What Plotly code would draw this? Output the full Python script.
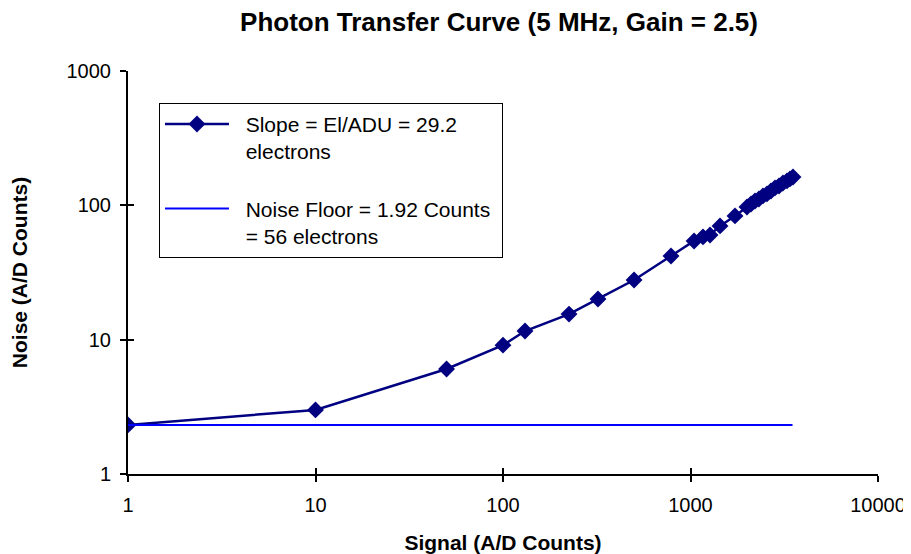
import plotly.graph_objects as go

# Data
signal = [1, 10, 50, 100, 131, 225, 321, 500, 787, 1045, 1166, 1271, 1437, 1727,
          2001, 2103, 2208, 2318, 2436, 2558, 2686, 2823, 2965, 3113, 3271, 3395, 3521]
noise = [2.32, 3.0, 6.05, 9.1, 11.6, 15.5, 20.1, 27.8, 42.0, 54.3, 58.2, 60.2, 70.3, 83.4,
         97.3, 102.4, 107.8, 111.6, 117.5, 121.6, 128.0, 134.8, 139.4, 146.8, 152.0, 157.3, 162.7]
floor_x = [1, 3500]
floor_y = [2.32, 2.32]

x_tickvals = [1, 10, 100, 1000, 10000]
x_ticktext = ["1", "10", "100", "1000", "10000"]
y_tickvals = [1, 10, 100, 1000]
y_ticktext = ["1", "10", "100", "1000"]

SP = "\u00a0\u00a0"
name_slope = SP + "Slope = El/ADU = 29.2<br>" + SP + "electrons"
name_floor = SP + "Noise Floor = 1.92 Counts\u00a0<br>" + SP + "= 56 electrons"

FONT = "Liberation Sans, Arial, sans-serif"

fig = go.Figure()
fig.add_trace(go.Scatter(
    x=signal, y=noise, mode="lines+markers", name=name_slope,
    legendgroup="a",
    line=dict(color="#000080", width=2.5),
    marker=dict(symbol="diamond", size=13, color="#000080"),
))
fig.add_trace(go.Scatter(
    x=floor_x, y=floor_y, mode="lines", name=name_floor,
    legendgroup="b",
    line=dict(color="#0000FF", width=2),
))
# invisible helper trace for the overlay axes (inside half of crossing ticks)
fig.add_trace(go.Scatter(
    x=[1], y=[1], xaxis="x2", yaxis="y2", mode="markers",
    marker=dict(opacity=0), showlegend=False, hoverinfo="skip",
))

axis_common = dict(
    type="log", showgrid=False, zeroline=False, showline=True,
    linecolor="black", linewidth=2, tickcolor="black", tickwidth=2,
    ticklen=6, automargin=False,
)

# the page body adds an 8px offset, so margins compensate for it
fig.update_layout(
    width=911, height=554,
    paper_bgcolor="white", plot_bgcolor="white",
    margin=dict(l=120, r=41, t=63, b=88, autoexpand=False),
    font=dict(family=FONT, color="black", size=20),
    title=dict(text="<b>Photon Transfer Curve (5 MHz, Gain = 2.5)</b>",
               x=0.539, xanchor="center", y=0.975, yanchor="middle",
               font=dict(size=26, family=FONT)),
    xaxis=dict(**axis_common, range=[0, 4], ticks="outside",
               tickvals=x_tickvals, ticktext=x_ticktext,
               ticklabelstandoff=6,
               tickfont=dict(size=20),
               title=dict(text="<b>Signal (A/D Counts)</b>",
                          font=dict(size=21), standoff=20)),
    yaxis=dict(**axis_common, range=[0, 3], ticks="outside",
               tickvals=y_tickvals, ticktext=y_ticktext,
               ticklabelstandoff=5,
               tickfont=dict(size=20),
               title=dict(text="<b>Noise (A/D Counts)</b>",
                          font=dict(size=21), standoff=34)),
    xaxis2=dict(type="log", range=[0, 4], overlaying="x", anchor="y",
                side="bottom", showgrid=False, zeroline=False, showline=False,
                ticks="inside", ticklen=6, tickwidth=2, tickcolor="black",
                tickvals=x_tickvals, showticklabels=False, automargin=False),
    yaxis2=dict(type="log", range=[0, 3], overlaying="y", anchor="x",
                side="left", showgrid=False, zeroline=False, showline=False,
                ticks="inside", ticklen=6, tickwidth=2, tickcolor="black",
                tickvals=y_tickvals, showticklabels=False, automargin=False),
    showlegend=True,
    legend=dict(x=0.0413, y=0.921, xanchor="left", yanchor="top",
                bgcolor="white", bordercolor="black", borderwidth=1,
                font=dict(size=21, family=FONT),
                valign="top", itemwidth=64, tracegroupgap=27,
                traceorder="grouped"),
)

fig.write_html("out.html")
